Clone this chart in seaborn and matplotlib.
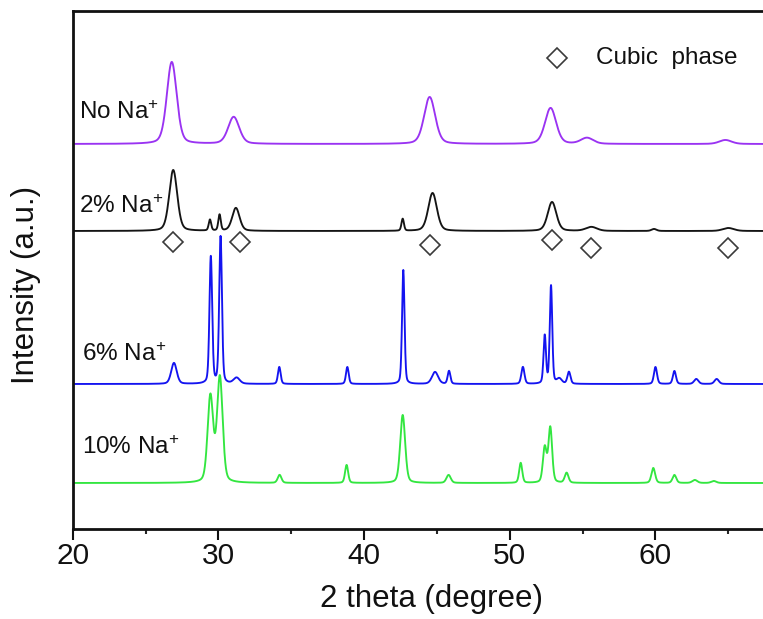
import numpy as np
import pandas as pd
import matplotlib
matplotlib.use("Agg")
import matplotlib.pyplot as plt
import seaborn as sns

# ---------------- data ----------------
samples = ["No Na$^{+}$", "2% Na$^{+}$", "6% Na$^{+}$", "10% Na$^{+}$"]
colors = ["#9a33f2", "#141414", "#1414f0", "#33e640"]
offsets = [385, 298, 145, 46]

# peak tables: position (2theta), height (a.u.), FWHM (deg)
noNa_pos = [26.8, 31.05, 44.5, 52.8, 55.3, 64.8]
noNa_h = [82, 27, 47, 36, 6, 4]
noNa_w = [0.8, 0.9, 0.9, 0.9, 1.0, 1.0]

na2_pos = [26.9, 29.42, 30.08, 31.2, 42.65, 44.7, 52.9, 55.6, 59.9, 65.0]
na2_h = [61, 11, 16, 23, 12, 38, 29, 4, 2, 3]
na2_w = [0.65, 0.2, 0.2, 0.6, 0.2, 0.7, 0.7, 0.9, 0.4, 0.9]

na6_pos = [26.95, 29.48, 30.15, 31.25, 34.18, 38.85, 42.69, 44.87, 45.83,
           50.9, 52.4, 52.83, 53.4, 54.06, 60.0, 61.3, 62.8, 64.2]
na6_h = [21, 127, 147, 6, 17, 17, 114, 12, 13, 17, 48, 98, 5, 12, 17, 13, 5, 5]
na6_w = [0.45, 0.22, 0.22, 0.5, 0.22, 0.22, 0.2, 0.5, 0.22, 0.25, 0.2, 0.2,
         0.4, 0.25, 0.25, 0.25, 0.35, 0.35]

na10_pos = [29.45, 30.1, 34.2, 38.8, 42.65, 45.8, 50.75, 52.4, 52.78, 53.9,
            59.85, 61.3, 62.7, 64.0]
na10_h = [86, 105, 8, 18, 68, 8, 20, 35, 55, 10, 15, 8, 3, 2]
na10_w = [0.45, 0.45, 0.3, 0.25, 0.4, 0.35, 0.25, 0.3, 0.3, 0.3, 0.3, 0.3, 0.4, 0.4]

peak_tables = [(noNa_pos, noNa_h, noNa_w), (na2_pos, na2_h, na2_w),
               (na6_pos, na6_h, na6_w), (na10_pos, na10_h, na10_w)]

# cubic-phase markers
cubic_x = [26.9, 31.5, 44.5, 52.9, 55.6, 65.0]
cubic_y = [287, 287, 284, 289, 281, 281]

x_ticks = [20, 30, 40, 50, 60]
x_min, x_max = 20, 67.38

# ---------------- build profiles ----------------
tt = np.linspace(x_min, x_max, 5000)


def profile(pos, h, w, eta=0.3):
    y = np.zeros_like(tt)
    for p, a, f in zip(pos, h, w):
        d = (tt - p) / (f / 2)
        y += a * ((1 - eta) * np.exp(-np.log(2) * d ** 2) + eta / (1 + d ** 2))
    return y


frames = []
for name, off, (pos, h, w) in zip(samples, offsets, peak_tables):
    frames.append(pd.DataFrame({"two_theta": tt,
                                "intensity": off + profile(pos, h, w),
                                "sample": name}))
df = pd.concat(frames, ignore_index=True)

# ---------------- plot ----------------
sns.set_style("ticks")
plt.rcParams["font.family"] = ["Liberation Sans", "DejaVu Sans"]
plt.rcParams["mathtext.default"] = "regular"

fig = plt.figure(figsize=(7.63, 6.19), dpi=100)
ax = fig.add_axes([72.7 / 763, 1 - 529 / 619, 1 - 72.7 / 763, 518 / 619])

sns.lineplot(data=df, x="two_theta", y="intensity", hue="sample",
             palette=dict(zip(samples, colors)), hue_order=samples,
             estimator=None, sort=False, legend=False, lw=1.35, ax=ax)

ax.plot(cubic_x, cubic_y, "D", mfc="none", mec="#3a3a3a", ms=10, mew=1.2)
ax.plot([53.25], [471], "D", mfc="none", mec="#3a3a3a", ms=10, mew=1.2)
ax.text(55.95, 471, "Cubic  phase", fontsize=17.5, va="center", ha="left",
        color="#111111")

label_pos = [(20.45, 416), (20.45, 322), (20.65, 174), (20.65, 81)]
for name, (lx, ly) in zip(samples, label_pos):
    ax.text(lx, ly, name, fontsize=17.5, va="center", ha="left", color="#111111")

ax.set_xlim(x_min, x_max)
ax.set_ylim(0, 518)
ax.set_xticks(x_ticks)
ax.set_xticks(np.arange(25, 67, 10), minor=True)
ax.set_yticks([])
ax.tick_params(axis="x", which="major", direction="out", length=8, width=1.5,
               labelsize=21.5, pad=1, colors="#111111")
ax.tick_params(axis="x", which="minor", direction="out", length=3.8, width=1.5)
for side in ["left", "bottom", "top"]:
    ax.spines[side].set_linewidth(2.0)
    ax.spines[side].set_color("#111111")
ax.spines["right"].set_visible(False)

ax.set_xlabel("2 theta (degree)", fontsize=22.5, color="#111111")
ax.set_ylabel("Intensity (a.u.)", fontsize=22.5, color="#111111")
ax.xaxis.set_label_coords((431 - 72.7) / 690.3, -0.106)
ax.yaxis.set_label_coords(-0.046, 0.471)

fig.savefig("out.png", dpi=100, facecolor="white")
